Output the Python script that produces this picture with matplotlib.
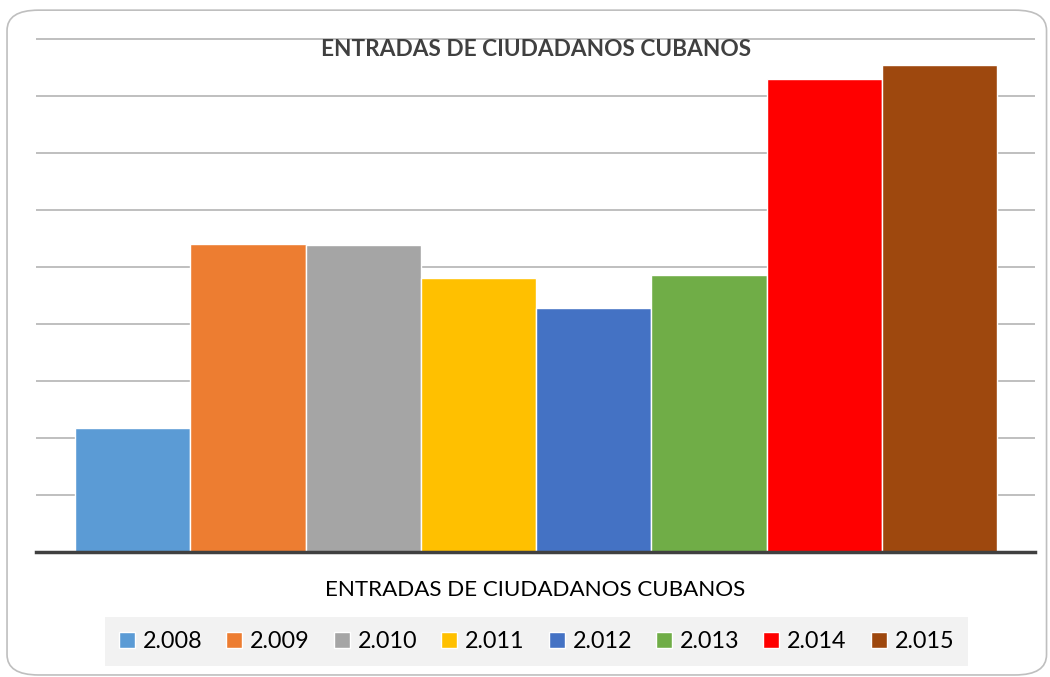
import matplotlib.pyplot as plt
from matplotlib.patches import Patch, FancyBboxPatch

plt.rcParams['font.family'] = ['Lato', 'DejaVu Sans']

anios = ['2.008', '2.009', '2.010', '2.011', '2.012', '2.013', '2.014', '2.015']
entradas = [2.18, 5.40, 5.39, 4.80, 4.28, 4.86, 8.30, 8.54]
colores = ['#5B9BD5', '#ED7D31', '#A5A5A5', '#FFC000', '#4472C4', '#70AD47', '#FF0000', '#9E480E']
titulo = 'ENTRADAS DE CIUDADANOS CUBANOS'

fig = plt.figure(figsize=(10.5, 6.77), dpi=100)
ax = fig.add_axes([0.0343, 0.1846, 0.9514, 0.762])

x = list(range(len(anios)))
ax.bar(x, entradas, width=1.0, color=colores, edgecolor='white', linewidth=1.0, zorder=3)

ax.set_ylim(0, 9.05)
ax.set_xlim(-0.5 - 0.34, len(anios) - 0.5 + 0.33)
ax.set_yticks(range(1, 10))
ax.yaxis.grid(True, color='#BFBFBF', linewidth=1.4, zorder=0)
ax.set_xticks([])
ax.tick_params(left=False, labelleft=False)
for s in ['top', 'right', 'left']:
    ax.spines[s].set_visible(False)
ax.spines['bottom'].set_color('#404040')
ax.spines['bottom'].set_linewidth(2.5)
ax.spines['bottom'].set_zorder(4)

ax.set_xlabel(titulo, fontsize=16.1, color='#000000', labelpad=20)
fig.text(0.511, 0.927, titulo, ha='center', va='center', fontsize=16.3,
         fontweight='bold', color='#404040', zorder=5)

handles = [Patch(facecolor=c, edgecolor='white') for c in colores]
leg = fig.legend(handles, anios, loc='center', bbox_to_anchor=(0.511, 0.052),
                 ncol=8, fontsize=16.8, frameon=True, fancybox=False,
                 handlelength=0.68, handleheight=0.68, handletextpad=0.35,
                 columnspacing=1.02, borderpad=0.6, borderaxespad=0)
leg.get_frame().set_facecolor('#F2F2F2')
leg.get_frame().set_edgecolor('none')
leg.get_frame().set_alpha(1)

borde = FancyBboxPatch((0.0067, 0.003), 0.99, 0.982, transform=fig.transFigure,
                       boxstyle='round,pad=0,rounding_size=0.03',
                       facecolor='none', edgecolor='#BFBFBF', linewidth=1.2)
fig.patches.append(borde)

fig.savefig('out.png', dpi=100)
